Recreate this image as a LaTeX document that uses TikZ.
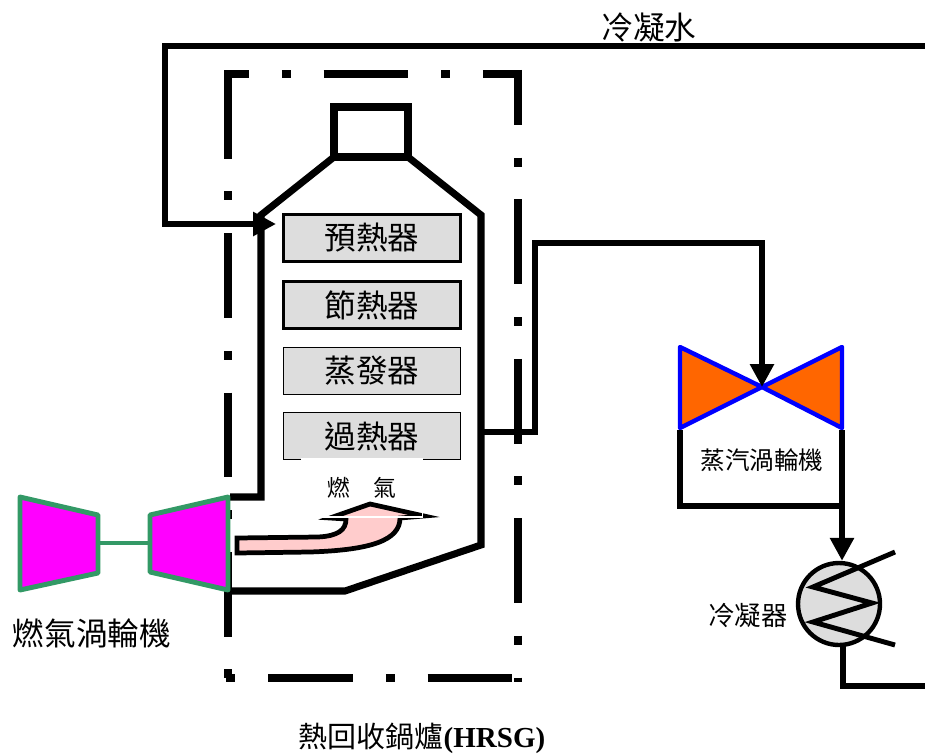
\documentclass[tikz,border=0pt]{standalone}
\usepackage{fontspec}
\setmainfont{Liberation Serif}
\newfontfamily\cjk{Noto Sans CJK TC}
\usetikzlibrary{arrows.meta}

\definecolor{boxgray}{HTML}{DDDDDD}
\definecolor{gtfill}{HTML}{FF00FF}
\definecolor{gtedge}{HTML}{339966}
\definecolor{stfill}{HTML}{FF6600}
\definecolor{gasfill}{HTML}{FFCCCC}

\tikzset{
  casing/.style={line width=5.1pt, dash pattern=on 48.2pt off 18.7pt on 5.1pt off 18.7pt},
  wall/.style={line width=4pt, line join=miter},
  pipe/.style={line width=3.7pt, line join=miter},
  tip/.style={-{Triangle[length=13pt,width=13pt]}},
  hxbox/.style={draw, fill=boxgray, minimum width=3.54cm, minimum height=0.94cm,
    inner sep=0pt, font=\cjk\fontsize{18}{20}\selectfont},
  gt/.style={draw=gtedge, fill=gtfill, line width=2.8pt, line join=round},
  st/.style={draw=blue, fill=stfill, line width=2.5pt, line join=round},
  lbl/.style={inner sep=0pt, font=\cjk\fontsize{#1}{#1}\selectfont},
}

\begin{document}
\begin{tikzpicture}[x=0.02cm, y=-0.02cm]
  \useasboundingbox (0,0) rectangle (925,753);

  % HRSG casing, one side at a time so the dashes meet at the corners
  \draw[casing, dash phase=34pt] (224,74) -- (522,74);
  \draw[casing, dash phase=17pt] (518,70) -- (518,682);
  \draw[casing, dash phase=65.5pt] (224,678) -- (522,678);
  \draw[casing, dash phase=88.5pt] (228,70) -- (228,682);

  % boiler shell with stack
  \draw[wall] (334,107) rectangle (408,157);
  \draw[wall] (230,497) -- (261,497) -- (261,215) -- (334,157) -- (408,157)
    -- (481,215) -- (481,545) -- (345,591) -- (230,591);

  % heat exchanger banks
  \foreach \name/\y/\txt/\lw in {pre/238/預熱器/2pt, eco/305/節熱器/2pt,
      eva/371/蒸發器/1.1pt, sup/436/過熱器/1.1pt}
    \node[hxbox, line width=\lw] (\name) at (372,\y) {\txt};

  % flue gas
  \draw[fill=gasfill, line width=2.7pt, line join=miter]
    (237,538) -- (318,537) .. controls (338,536) and (346,530) .. (346,519)
    -- (330,518) -- (370,504) -- (424,516) -- (400,518)
    .. controls (400,540) and (372,550) .. (310,552) -- (237,553) -- cycle;
  \node[draw=white, line width=0.8pt, minimum width=2.42cm, minimum height=1.16cm,
    lbl=13] (gas) at (362,488) {燃\quad 氣};

  % gas turbine
  \draw[gt] (20,497) -- (98,515) -- (98,573) -- (20,590) -- cycle;
  \draw[gt] (150,515) -- (228,497) -- (228,590) -- (150,572) -- cycle;
  \draw[draw=gtedge, line width=2.5pt] (98,543) -- (150,543);
  \node[lbl=18] (gtlabel) at (92,633) {燃氣渦輪機};

  % steam turbine
  \coordinate (st) at (762,387);
  \coordinate (stl) at (680,430);
  \coordinate (str) at (842,430);
  \draw[pipe] (stl) |- (842,506);
  \draw[st] (680,347) -- (st) -- (680,428) -- cycle;
  \draw[st] (842,347) -- (st) -- (842,428) -- cycle;
  \node[lbl=14] (stlabel) at (762,460) {蒸汽渦輪機};

  % steam line from superheater to turbine
  \coordinate (so) at (481,432);
  \coordinate (riser) at (535,243);
  \draw[pipe, tip] (so) -| (riser) -| (st);

  % condenser
  \node[circle, draw, fill=boxgray, line width=2.5pt, minimum size=1.64cm,
    inner sep=0pt] (cond) at (839,604) {};
  \draw[line width=2.8pt, line join=miter, shift={(cond)}]
    (56,-52) -- (-26,-17) -- (33,-1) -- (-26,18) -- (56,41);
  \draw[pipe, tip] (str) -- (str |- cond.north);
  \node[lbl=15] (condlabel) at (748,616) {冷凝器};

  % condensate back to the preheater
  \coordinate (ret) at (928.5,46);
  \coordinate (fw) at (276,224);
  \draw[pipe, tip] (843,644) |- (928.5,686) -- (ret) -| (165,224) -- (fw);
  \node[lbl=18] (water) at (649,28) {冷凝水};

  % Labels
  \node[inner sep=0pt, font=\fontsize{16.5}{18}\selectfont] (hrsg) at (422,738)
    {{\cjk 熱回收鍋爐}\textbf{(HRSG)}};
\end{tikzpicture}
\end{document}
